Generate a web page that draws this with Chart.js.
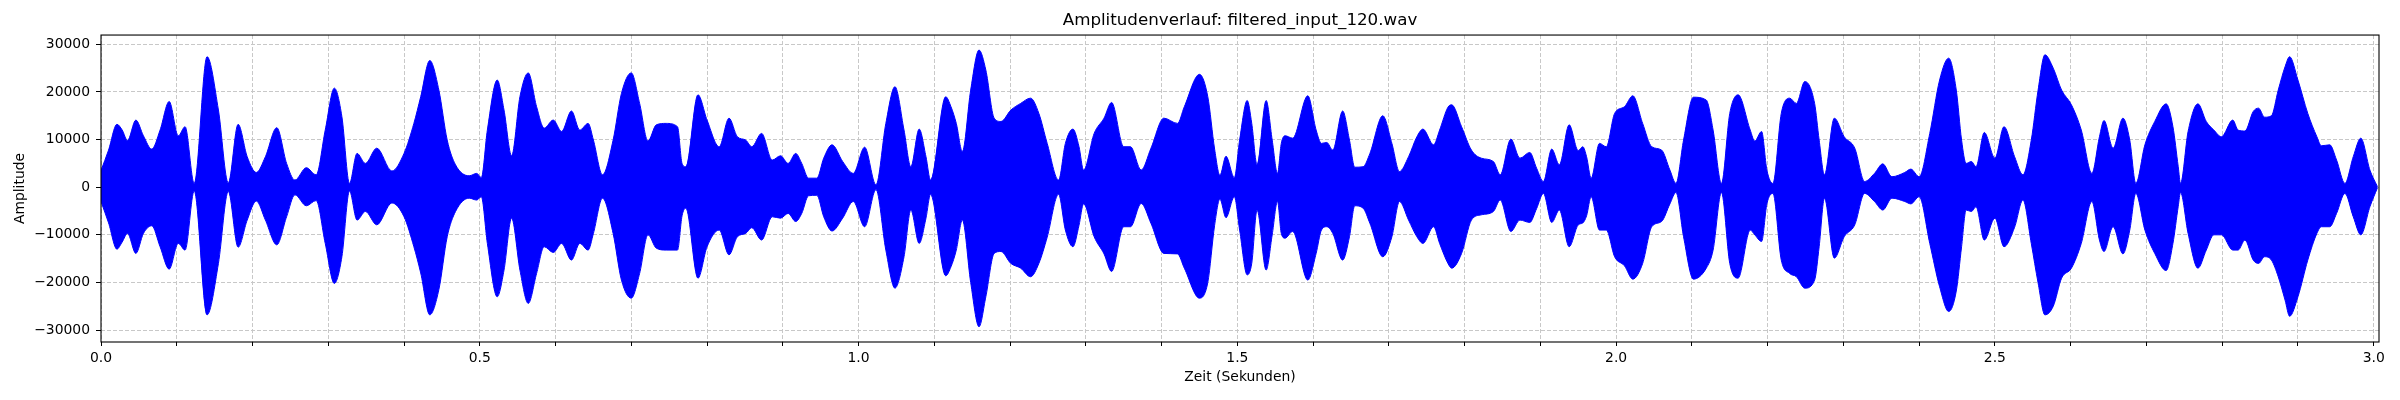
<!DOCTYPE html>
<html>
<head>
<meta charset="utf-8">
<title>Amplitudenverlauf</title>
<script src="https://cdn.jsdelivr.net/npm/chart.js@4.4.1/dist/chart.umd.min.js"></script>
<style>
  html, body { margin: 0; padding: 0; background: #fff; }
  #wrap { width: 2400px; height: 400px; }
</style>
</head>
<body>
<div id="wrap"><canvas id="wave" width="2400" height="400"></canvas></div>
<script>
// Envelope of the waveform (time in s, amplitude in samples)
const times = [
  0.000, 0.010, 0.021, 0.028, 0.035, 0.046, 0.056, 0.067, 0.078, 0.090,
  0.102, 0.111, 0.123, 0.140, 0.155, 0.168, 0.181, 0.193, 0.205, 0.217,
  0.232, 0.245, 0.256, 0.271, 0.284, 0.296, 0.308, 0.318, 0.328, 0.338,
  0.349, 0.364, 0.384, 0.400, 0.413, 0.422, 0.434, 0.446, 0.457, 0.468,
  0.486, 0.496, 0.502, 0.510, 0.523, 0.532, 0.542, 0.553, 0.564, 0.575,
  0.585, 0.597, 0.608, 0.621, 0.632, 0.643, 0.650, 0.662, 0.676, 0.687,
  0.700, 0.711, 0.722, 0.733, 0.746, 0.761, 0.767, 0.772, 0.788, 0.800,
  0.816, 0.829, 0.840, 0.851, 0.859, 0.872, 0.886, 0.897, 0.907, 0.917,
  0.925, 0.934, 0.945, 0.954, 0.965, 0.979, 0.993, 1.008, 1.023, 1.036,
  1.048, 1.060, 1.069, 1.080, 1.089, 1.095, 1.115, 1.122, 1.129, 1.137,
  1.148, 1.159, 1.168, 1.179, 1.188, 1.201, 1.214, 1.227, 1.238, 1.249,
  1.264, 1.273, 1.283, 1.291, 1.297, 1.311, 1.324, 1.334, 1.350, 1.359,
  1.373, 1.386, 1.403, 1.421, 1.430, 1.450, 1.461, 1.470, 1.477, 1.485,
  1.496, 1.503, 1.513, 1.519, 1.526, 1.538, 1.546, 1.553, 1.558, 1.563,
  1.573, 1.593, 1.604, 1.611, 1.618, 1.626, 1.639, 1.648, 1.655, 1.666,
  1.675, 1.692, 1.704, 1.714, 1.726, 1.737, 1.745, 1.759, 1.767, 1.778,
  1.783, 1.796, 1.809, 1.822, 1.838, 1.847, 1.861, 1.873, 1.886, 1.895,
  1.904, 1.915, 1.925, 1.938, 1.950, 1.956, 1.961, 1.967, 1.978, 1.987,
  1.998, 2.011, 2.022, 2.035, 2.047, 2.060, 2.071, 2.079, 2.089, 2.102,
  2.119, 2.128, 2.139, 2.150, 2.161, 2.177, 2.183, 2.192, 2.199, 2.207,
  2.218, 2.229, 2.238, 2.249, 2.262, 2.268, 2.275, 2.288, 2.301, 2.315,
  2.328, 2.341, 2.352, 2.364, 2.381, 2.389, 2.400, 2.414, 2.427, 2.439,
  2.449, 2.456, 2.462, 2.469, 2.475, 2.486, 2.500, 2.512, 2.526, 2.537,
  2.548, 2.557, 2.566, 2.577, 2.588, 2.601, 2.614, 2.628, 2.638, 2.644,
  2.656, 2.669, 2.678, 2.686, 2.698, 2.711, 2.726, 2.735, 2.742, 2.745,
  2.755, 2.768, 2.779, 2.789, 2.799, 2.814, 2.821, 2.830, 2.841, 2.848,
  2.856, 2.865, 2.874, 2.883, 2.889, 2.900, 2.913, 2.925, 2.931, 2.942,
  2.951, 2.962, 2.973, 2.983, 2.995, 3.005
];

const upperEnv = [
  3500, 7800, 13200, 12000, 9800, 14100, 10800, 8000, 12000, 18000,
  10800, 12700, 800, 27400, 16200, 900, 13200, 6400, 3100, 6400,
  12500, 5000, 1500, 4100, 2600, 12000, 20800, 14800, 800, 7100,
  5000, 8200, 3400, 7100, 13400, 19000, 26600, 20400, 9900, 4700,
  2400, 2900, 2000, 12000, 22500, 16200, 6600, 19000, 24000, 16900,
  12400, 14100, 11700, 16000, 12000, 13400, 9900, 2600, 9900, 19700,
  24000, 17600, 9700, 13100, 13400, 12700, 5000, 4300, 19400, 14100,
  8500, 14500, 10600, 9900, 8500, 11300, 5700, 6600, 5000, 7100,
  5000, 1900, 1900, 6100, 8900, 5400, 2900, 8400, 500, 13400,
  21100, 12000, 4300, 12200, 6400, 1500, 19000, 16900, 13400, 7500,
  20400, 28800, 24600, 14500, 13800, 16200, 17600, 18700, 15500, 9200,
  1500, 9200, 12200, 8500, 3600, 11300, 14500, 17800, 8500, 8500,
  3600, 8200, 14500, 13400, 16900, 23700, 19000, 8000, 2500, 6500,
  2000, 9900, 18200, 13400, 4700, 18200, 9900, 2900, 9200, 10800,
  10300, 19200, 12000, 9200, 9400, 7800, 16000, 9900, 4200, 4300,
  7100, 15000, 9200, 3300, 6400, 10600, 12200, 8900, 12000, 16800,
  17300, 12700, 7800, 6100, 5400, 2600, 10100, 6100, 7300, 4000,
  1200, 8000, 4700, 13100, 7700, 8500, 6400, 1900, 9200, 8500,
  15500, 16900, 19200, 13400, 8500, 7800, 3600, 800, 9900, 18900,
  18300, 12000, 800, 15500, 19400, 12000, 9700, 11700, 3600, 800,
  15500, 18700, 17600, 22200, 17600, 9900, 2600, 14500, 10600, 8200,
  1200, 2900, 4900, 2200, 3100, 3800, 2200, 11300, 22500, 27100,
  20400, 9900, 5000, 5400, 4300, 11500, 6100, 12700, 6400, 2600,
  9900, 20400, 27800, 25000, 20400, 17300, 12000, 2900, 10600, 14000,
  8200, 14500, 9900, 800, 8900, 13800, 17500, 12700, 4300, 800,
  11700, 17500, 13800, 12000, 10600, 14100, 12000, 11800, 15900, 16600,
  14700, 15000, 20400, 25300, 27400, 22500, 15500, 10600, 8700, 8900,
  5700, 800, 6400, 10300, 3600, 100
];

const lowerEnv = [
  -3000, -7500, -13000, -11500, -9700, -13900, -9700, -8100, -12500, -17200,
  -11800, -13200, -800, -26800, -16000, -900, -12600, -6900, -2900, -6900,
  -12100, -6200, -1600, -3900, -2800, -11800, -20200, -14600, -800, -6900,
  -5100, -7900, -3300, -6200, -12500, -18000, -26800, -21500, -10400, -5100,
  -2300, -2700, -2000, -11800, -23000, -17400, -6500, -17400, -24400, -18100,
  -12500, -13700, -11800, -15300, -11800, -13200, -9700, -2300, -9700, -19500,
  -23300, -18100, -10000, -12800, -13200, -13200, -6000, -4400, -19100, -12500,
  -9000, -14200, -10400, -9700, -8500, -11100, -6200, -6500, -5500, -7200,
  -5500, -1800, -1700, -6200, -9200, -6500, -3000, -8300, -500, -13200,
  -21200, -14600, -4800, -11800, -6500, -1500, -18600, -16700, -13200, -6900,
  -20000, -29300, -23000, -13900, -13500, -16000, -17000, -18800, -16000, -10500,
  -1500, -9000, -12500, -8000, -3500, -10400, -14000, -17700, -8300, -8300,
  -3400, -7600, -13900, -14000, -17000, -23300, -20000, -8000, -2500, -6400,
  -2000, -9000, -18400, -16000, -4800, -17400, -10000, -3000, -9700, -10700,
  -9300, -19500, -13900, -9000, -8300, -9700, -15300, -10400, -3900, -4400,
  -7600, -14600, -10400, -3000, -6900, -10400, -11800, -8300, -11800, -16000,
  -17000, -13900, -6900, -5800, -5100, -2700, -9300, -6900, -7400, -4500,
  -1300, -7400, -4800, -12500, -7900, -7500, -6000, -2000, -9000, -9000,
  -14600, -16500, -19300, -16000, -8300, -7200, -3500, -1100, -10400, -19300,
  -17000, -13200, -1100, -16000, -19100, -9000, -10000, -11400, -3500, -1300,
  -15300, -18100, -18800, -21200, -19500, -12500, -2300, -14900, -10400, -7900,
  -1300, -3000, -4800, -2300, -3000, -3500, -2000, -11800, -20900, -26100,
  -21800, -12500, -4800, -5100, -4100, -11100, -6500, -12500, -8400, -2700,
  -11800, -20100, -26800, -25000, -19100, -17000, -11800, -3000, -11100, -13500,
  -8300, -14000, -9000, -1300, -9000, -13900, -17500, -11800, -4000, -1100,
  -9700, -17000, -13200, -10000, -10000, -13200, -13200, -11100, -15300, -16000,
  -14600, -15300, -18800, -23700, -27100, -23000, -15300, -9700, -8300, -8300,
  -5500, -1300, -6200, -10000, -4100, -100
];

// Tick positions and axis limits taken from the figure
const xTickValues = [
  0.0, 0.1, 0.2, 0.3, 0.4, 0.5, 0.6, 0.7, 0.8, 0.9,
  1.0, 1.1, 1.2, 1.3, 1.4, 1.5, 1.6, 1.7, 1.8, 1.9,
  2.0, 2.1, 2.2, 2.3, 2.4, 2.5, 2.6, 2.7, 2.8, 2.9, 3.0
];
const xTickLabels = ['0.0', '0.5', '1.0', '1.5', '2.0', '2.5', '3.0'];
const yTickValues = [-30000, -20000, -10000, 0, 10000, 20000, 30000];
const yTickLabels = ['\u221230000', '\u221220000', '\u221210000', '0', '10000', '20000', '30000'];
const xLimits = [0, 3.007];
const yLimits = [-32500, 31950];

const titleText = 'Amplitudenverlauf: filtered_input_120.wav';
const xLabel = 'Zeit (Sekunden)';
const yLabel = 'Amplitude';

const FONT = 'DejaVu Sans';
const BLUE = '#0000ff';
const GRID = '#c8c8c8';

const upperPts = times.map((t, i) => ({ x: t, y: upperEnv[i] }));
const lowerPts = times.map((t, i) => ({ x: t, y: lowerEnv[i] }));

// matplotlib style box around the axes
const framePlugin = {
  id: 'frame',
  afterDatasetsDraw(chart) {
    const a = chart.chartArea;
    const ctx = chart.ctx;
    ctx.save();
    ctx.strokeStyle = '#000';
    ctx.lineWidth = 1.1;
    ctx.strokeRect(a.left, a.top, a.right - a.left, a.bottom - a.top);
    ctx.restore();
  }
};

function xLabelFor(v) {
  const s = v.toFixed(1);
  return xTickLabels.includes(s) ? s : '';
}

function yLabelFor(v) {
  const i = yTickValues.indexOf(v);
  return i >= 0 ? yTickLabels[i] : '';
}

const ctx = document.getElementById('wave').getContext('2d');
const chart = new Chart(ctx, {
  type: 'line',
  data: {
    datasets: [
      {
        label: 'upper',
        data: upperPts,
        borderColor: BLUE,
        backgroundColor: BLUE,
        borderWidth: 1,
        pointRadius: 0,
        cubicInterpolationMode: 'monotone',
        fill: '+1'
      },
      {
        label: 'lower',
        data: lowerPts,
        borderColor: BLUE,
        backgroundColor: BLUE,
        borderWidth: 1,
        pointRadius: 0,
        cubicInterpolationMode: 'monotone',
        fill: false
      }
    ]
  },
  options: {
    responsive: false,
    devicePixelRatio: 1,
    animation: false,
    events: [],
    layout: { padding: { left: 0, right: 21, top: 0, bottom: 0 } },
    plugins: {
      legend: { display: false },
      tooltip: { enabled: false },
      title: {
        display: true,
        text: titleText,
        fullSize: false,
        color: '#000',
        font: { family: FONT, size: 16.7, weight: 'normal' },
        padding: { top: 11, bottom: 4 }
      }
    },
    scales: {
      x: {
        type: 'linear',
        min: xLimits[0],
        max: xLimits[1],
        afterBuildTicks(scale) { scale.ticks = xTickValues.map(v => ({ value: v })); },
        afterFit(scale) { scale.height = 58; },
        grid: {
          color: GRID,
          lineWidth: 1,
          tickColor: '#000',
          tickLength: 4,
          tickWidth: 1
        },
        border: { display: false, dash: [4, 2] },
        ticks: {
          autoSkip: false,
          maxRotation: 0,
          padding: 4,
          color: '#000',
          font: { family: FONT, size: 13.9 },
          callback: v => xLabelFor(v)
        },
        title: {
          display: true,
          text: xLabel,
          color: '#000',
          font: { family: FONT, size: 13.9 },
          padding: { top: 0, bottom: 14 }
        }
      },
      y: {
        type: 'linear',
        min: yLimits[0],
        max: yLimits[1],
        afterBuildTicks(scale) { scale.ticks = yTickValues.map(v => ({ value: v })); },
        afterFit(scale) { scale.width = 101; },
        grid: {
          color: GRID,
          lineWidth: 1,
          tickColor: '#000',
          tickLength: 5,
          tickWidth: 1
        },
        border: { display: false, dash: [4, 2] },
        ticks: {
          autoSkip: false,
          padding: 6,
          color: '#000',
          font: { family: FONT, size: 13.9 },
          callback: v => yLabelFor(v)
        },
        title: {
          display: true,
          text: yLabel,
          color: '#000',
          font: { family: FONT, size: 13.9 },
          padding: { top: 12, bottom: 0 }
        }
      }
    }
  },
  plugins: [framePlugin]
});
</script>
</body>
</html>
